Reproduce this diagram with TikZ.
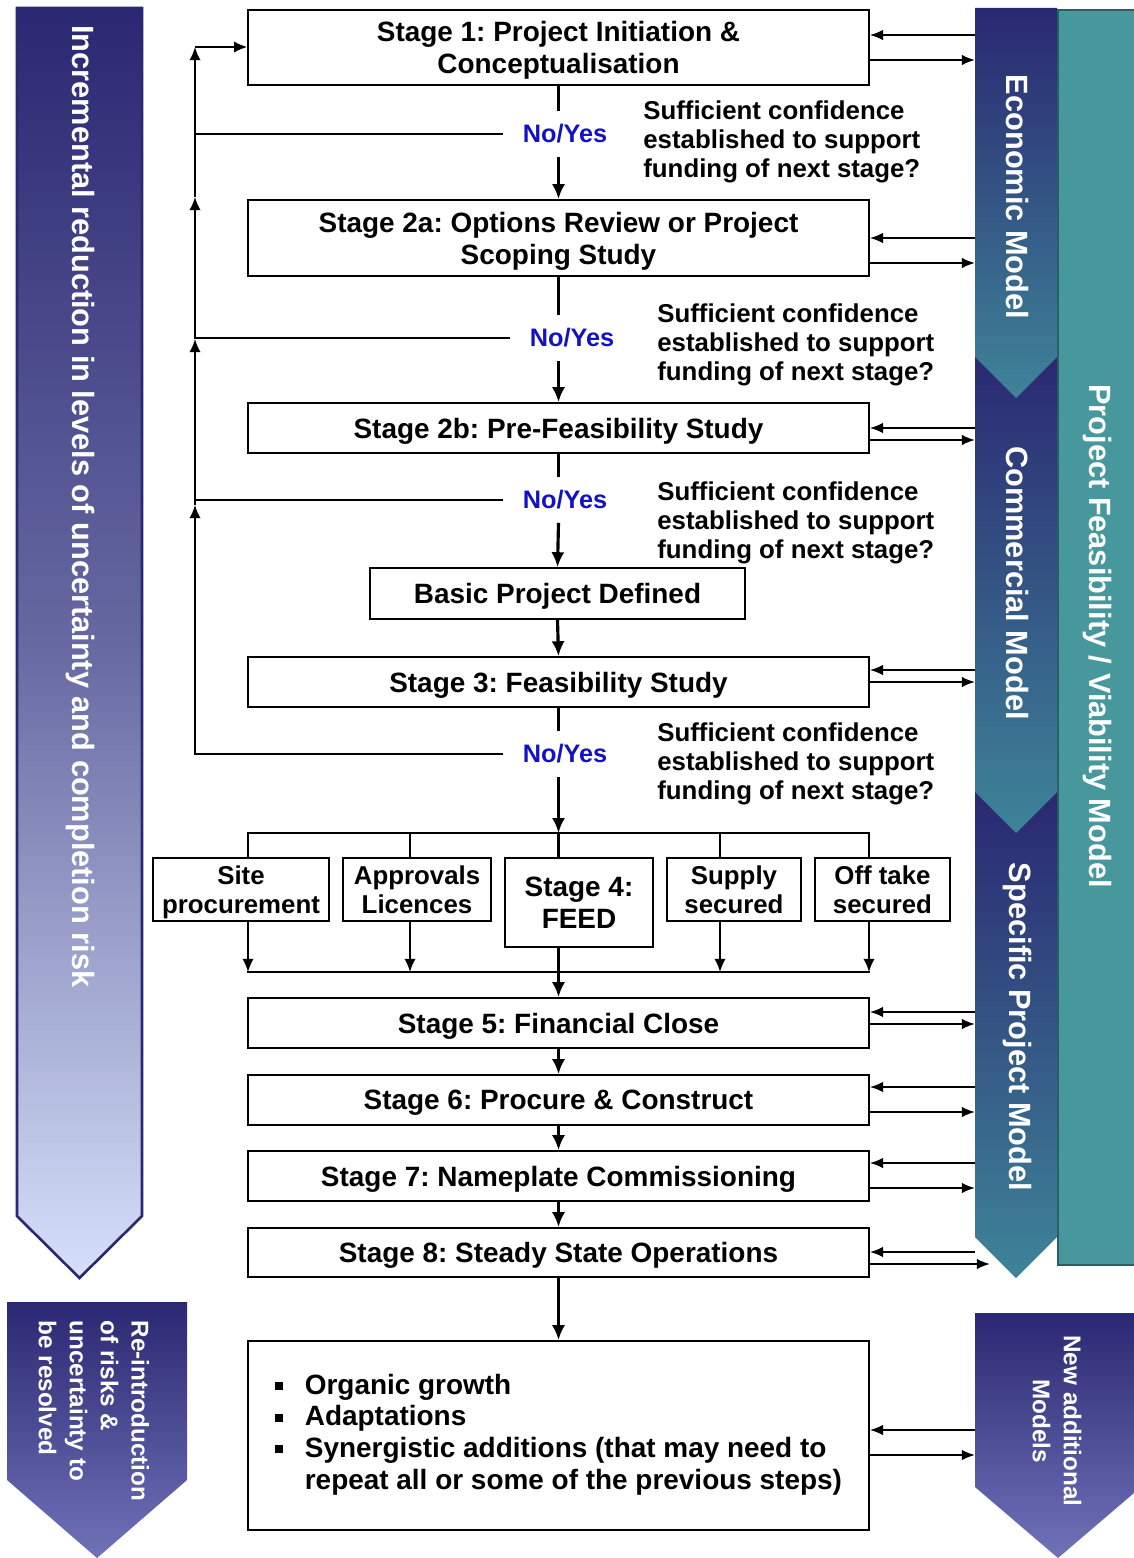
\documentclass[tikz,border=0pt]{standalone}
\usepackage{fontspec}
\setmainfont{Liberation Sans}
\usepackage{tikz}
\usetikzlibrary{arrows.meta}

\definecolor{navy}{RGB}{42,40,114}
\definecolor{lavlight}{RGB}{214,224,250}
\definecolor{lavmid}{RGB}{112,114,184}
\definecolor{tealbox}{RGB}{70,152,156}
\definecolor{tealdark}{RGB}{40,95,98}
\definecolor{chevteal}{RGB}{62,132,152}
\definecolor{noyesblue}{RGB}{18,18,196}
\newcommand{\sqbullet}{\rule[2.5pt]{4.5pt}{4.5pt}}
\frenchspacing

\begin{document}
\begin{tikzpicture}[x=0.02cm, y=-0.02cm, >={Latex[length=8.5pt,width=7.5pt]},
  stage/.style={draw, line width=1pt, minimum width=12.42cm, minimum height=1cm, inner sep=0pt, text depth=0pt, align=center, font=\bfseries\fontsize{15.9}{18.1}\selectfont},
  sub/.style={draw, line width=1pt, minimum height=1.26cm, inner sep=0pt, text depth=0pt, align=center, font=\bfseries\fontsize{14.7}{16.4}\selectfont},
  noyes/.style={text=noyesblue, inner xsep=0.38cm, inner ysep=0.26cm, font=\bfseries\fontsize{14.4}{16}\selectfont},
  question/.style={anchor=west, align=left, inner sep=0pt, font=\bfseries\fontsize{14.7}{16.4}\selectfont},
  band/.style={text=white, rotate=-90, inner sep=0pt, font=\bfseries\fontsize{17.5}{20}\selectfont},
  flow/.style={line width=1.8pt},
  fb/.style={line width=1.1pt, >={Latex[length=7.5pt,width=6.5pt]}},
  link/.style={line width=1.1pt, >={Latex[length=7.5pt,width=6pt]}}]

\useasboundingbox (0,0) rectangle (1133,1558);

% model bands
\draw[tealdark, line width=1.5pt, fill=tealbox] (1058,10) rectangle (1150,1265);
\shade[top color=navy, bottom color=chevteal] (975,792) -- (1057,792) -- (1057,1237) -- (1016,1278) -- (975,1237) -- cycle;
\shade[top color=navy, bottom color=chevteal] (975,350) -- (1057,350) -- (1057,792) -- (1016,833) -- (975,792) -- cycle;
\shade[top color=navy, bottom color=chevteal] (975,8) -- (1057,8) -- (1057,357) -- (1016,398) -- (975,357) -- cycle;
\draw[navy, line width=1.5pt, top color=navy, bottom color=lavlight, middle color=navy!65!lavlight] (17,8) -- (142,8) -- (142,1216) -- (79.5,1278) -- (17,1216) -- cycle;
\shade[top color=navy, bottom color=lavmid] (7,1302) -- (187,1302) -- (187,1480) -- (97,1558) -- (7,1480) -- cycle;
\shade[top color=navy, bottom color=lavmid] (975,1313) -- (1141,1313) -- (1141,1487) -- (1058,1558) -- (975,1487) -- cycle;

\node[band, anchor=west] at (80,25) (lefttxt) {Incremental reduction in levels of uncertainty and completion risk};
\node[band] at (1017,197) (eco) {Economic Model};
\node[band] at (1017,583) (com) {Commercial Model};
\node[band] at (1017,1027) (spec) {Specific Project Model};
\node[band] at (1097,636) (pfv) {Project Feasibility / Viability Model};
\node[band, align=left, font=\bfseries\fontsize{13.8}{17.6}\selectfont] at (94,1411) (reintro) {Re-introduction\\of risks \&\\uncertainty to\\be resolved};
\node[band, align=center, font=\bfseries\fontsize{13.8}{17.6}\selectfont] at (1057,1421) (newm) {New additional\\Models};

% stages
\node[stage, minimum height=1.5cm] at (558.5,47.5) (s1) {Stage 1: Project Initiation \&\\Conceptualisation};
\node[stage, minimum height=1.52cm] at (558.5,238) (s2a) {Stage 2a: Options Review or Project\\Scoping Study};
\node[stage] at (558.5,428) (s2b) {Stage 2b: Pre-Feasibility Study};
\node[stage, minimum width=7.5cm, minimum height=1.02cm] at (557.5,593.5) (basic) {Basic Project Defined};
\node[stage] at (558.5,682) (s3) {Stage 3: Feasibility Study};

\node[sub, minimum width=3.52cm] at (241,889.5) (site) {Site\\procurement};
\node[sub, minimum width=2.96cm] at (417,889.5) (appr) {Approvals\\Licences};
\node[sub, minimum width=2.96cm, minimum height=1.78cm, font=\bfseries\fontsize{15.9}{18.1}\selectfont] at (579,902.5) (feed) {Stage 4:\\FEED};
\node[sub, minimum width=2.68cm] at (734,889.5) (supply) {Supply\\secured};
\node[sub, minimum width=2.7cm] at (882.5,889.5) (offtake) {Off take\\secured};

\node[stage] at (558.5,1023) (s5) {Stage 5: Financial Close};
\node[stage] at (558.5,1100) (s6) {Stage 6: Procure \& Construct};
\node[stage] at (558.5,1176) (s7) {Stage 7: Nameplate Commissioning};
\node[stage, minimum height=0.98cm] at (558.5,1252.5) (s8) {Stage 8: Steady State Operations};
\node[stage, text depth={}, minimum height=3.78cm] at (558.5,1435.5) (grow) {\begin{tabular}{@{}l@{\hspace{12.5pt}}l@{}}
\sqbullet & Organic growth\\
\sqbullet & Adaptations\\
\sqbullet & Synergistic additions (that may need to\\
 & repeat all or some of the previous steps)
\end{tabular}};

% decisions
\node[noyes] at (565,134) (ny1) {No/Yes};
\node[noyes] at (572,338) (ny2) {No/Yes};
\node[noyes] at (565,500) (ny3) {No/Yes};
\node[noyes] at (565,754) (ny4) {No/Yes};

\node[question] at (643,142) (q1) {Sufficient confidence\\established to support\\funding of next stage?};
\node[question] at (657,345) (q2) {Sufficient confidence\\established to support\\funding of next stage?};
\node[question] at (657,523) (q3) {Sufficient confidence\\established to support\\funding of next stage?};
\node[question] at (657,764) (q4) {Sufficient confidence\\established to support\\funding of next stage?};

% main flow
\draw[flow] (s1.south) -- (s1.south |- ny1.north);
\draw[flow, ->] (s1.south |- ny1.south) -- (s2a.north);
\draw[flow] (s2a.south) -- (s2a.south |- ny2.north);
\draw[flow, ->] (s2a.south |- ny2.south) -- (s2b.north);
\draw[flow] (s2b.south) -- (s2b.south |- ny3.north);
\draw[flow, ->] (s2b.south |- ny3.south) -- (basic.north);
\draw[flow, ->] (basic.south) -- (s3.north);
\draw[flow] (s3.south) -- (s3.south |- ny4.north);

\coordinate (tbus) at (558.5,833);
\coordinate (bbus) at (558.5,972);
\draw[flow, ->] (s3.south |- ny4.south) -- (tbus);
\draw[fb] (tbus -| s3.west) -- (tbus -| s3.east);
\draw[fb] (bbus -| s3.west) -- (bbus -| s3.east);
\draw[flow] (tbus) -- (tbus |- feed.north);
\draw[flow] (feed.south -| tbus) -- (bbus);
\foreach \x/\n in {248/site, 410/appr, 720/supply, 869/offtake}
{
  \draw[fb] (\x,833) -- (\n.north -| \x,0);
  \draw[fb, ->] (\n.south -| \x,0) -- (\x,972);
}
\draw[flow, ->] (bbus) -- (s5.north);
\draw[flow, ->] (s5) -- (s6);
\draw[flow, ->] (s6) -- (s7);
\draw[flow, ->] (s7) -- (s8);
\draw[flow, ->] (s8) -- (grow);

% feedback loop
\coordinate (fbtop) at (195,47);
\coordinate (fb1) at (195,197);
\coordinate (fb2) at (195,339);
\coordinate (fb3) at (195,505);
\draw[fb] (ny1.west) -- (ny1.west -| fbtop);
\draw[fb] (ny2.west) -- (ny2.west -| fbtop);
\draw[fb] (ny3.west) -- (ny3.west -| fbtop);
\draw[fb, ->] (ny4.west) -| (fb3);
\draw[fb, ->] (fb3) -- (fb2);
\draw[fb, ->] (fb2) -- (fb1);
\draw[fb, ->] (fb1) -- (fbtop);
\draw[fb, ->] (fbtop) -- (fbtop -| s1.west);

% links to the models
\coordinate (mdl) at (975,0);
\coordinate (mdl8) at (990,1264);
\foreach \n/\a/\b in {s1/35/60, s2a/238/263, s2b/428/440, s3/670/682, s5/1012/1024, s6/1087/1112, s7/1163/1188, grow/1430/1455}
{
  \draw[link, ->] (mdl |- 0,\a) -- (\n.east |- 0,\a);
  \draw[link, ->] (\n.east |- 0,\b) -- (mdl |- 0,\b);
}
\draw[link, ->] (mdl |- 0,1252) -- (s8.east |- 0,1252);
\draw[link, ->] (s8.east |- mdl8) -- (mdl8);

\end{tikzpicture}
\end{document}
